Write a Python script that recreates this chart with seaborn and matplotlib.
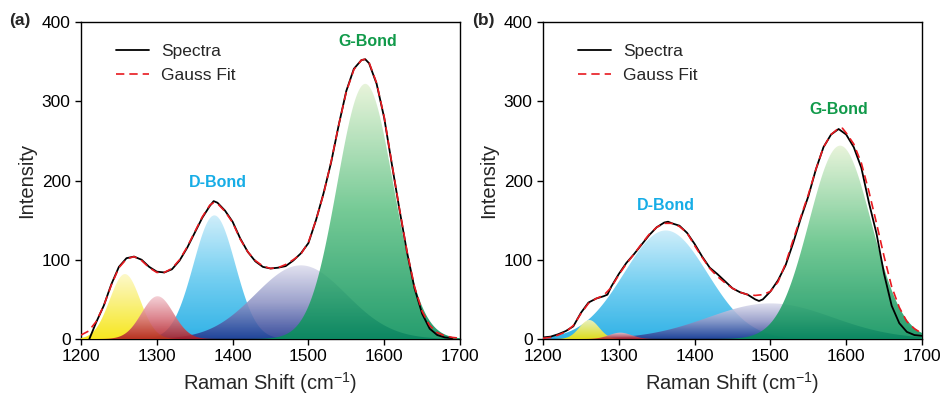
import numpy as np
import matplotlib
matplotlib.use("Agg")
import matplotlib.pyplot as plt
import seaborn as sns
from matplotlib.patches import PathPatch
from matplotlib.colors import to_rgb

# Spectrum and fit readings, panel (a)
fit_a_x = [1200, 1210, 1220, 1230, 1240, 1250, 1260, 1270, 1280, 1290, 1300, 1310, 1320, 1330,
           1340, 1350, 1360, 1370, 1375, 1380, 1390, 1400, 1410, 1420, 1430, 1440, 1450, 1460,
           1470, 1480, 1490, 1500, 1510, 1520, 1530, 1540, 1550, 1560, 1570, 1575, 1580, 1590,
           1600, 1610, 1620, 1630, 1640, 1650, 1660, 1670, 1680, 1690, 1700]
fit_a_y = [5, 10, 22, 42, 68, 90, 101, 104, 99, 90, 84, 84, 89, 100,
           116, 135, 154, 169, 172, 171, 161, 147, 126, 110, 99, 92, 89, 90,
           94, 100, 107, 122, 150, 183, 224, 270, 312, 340, 352, 353, 349, 323,
           280, 222, 165, 111, 66, 35, 17, 8, 4, 2, 1]
spec_a_x = [1211, 1220, 1230, 1240, 1250, 1260, 1270, 1280, 1290, 1300, 1310, 1320, 1330,
            1340, 1350, 1360, 1370, 1375, 1380, 1390, 1400, 1410, 1420, 1430, 1440, 1450, 1460,
            1470, 1480, 1490, 1500, 1510, 1520, 1530, 1540, 1550, 1560, 1570, 1575, 1580, 1590,
            1600, 1610, 1620, 1630, 1640, 1650, 1660, 1670, 1680, 1690]
spec_a_y = [0, 21, 42, 69, 91, 102, 104, 100, 91, 85, 84, 88, 99,
            115, 134, 153, 168, 174, 172, 162, 148, 127, 110, 98, 91, 89, 90,
            92, 99, 108, 121, 150, 184, 223, 270, 313, 341, 352, 353, 348, 322,
            279, 221, 164, 110, 64, 32, 13, 5, 2, 1]

# Spectrum and fit readings, panel (b)
fit_b_x = [1200, 1210, 1220, 1230, 1240, 1250, 1260, 1270, 1280, 1290, 1300, 1310, 1320, 1330,
           1340, 1350, 1360, 1370, 1380, 1390, 1400, 1410, 1420, 1430, 1440, 1450, 1460, 1470,
           1480, 1490, 1500, 1510, 1520, 1530, 1540, 1550, 1560, 1570, 1580, 1590, 1595, 1600,
           1610, 1620, 1630, 1640, 1650, 1660, 1670, 1680, 1690, 1700]
fit_b_y = [1, 2, 5, 9, 17, 32, 45, 51, 55, 65, 81, 95, 107, 120,
           132, 141, 146, 146, 142, 134, 118, 103, 89, 79, 71, 64, 59, 56,
           55, 56, 60, 72, 95, 125, 154, 182, 214, 242, 258, 266, 266, 260,
           246, 222, 186, 146, 104, 66, 40, 22, 13, 7]
spec_b_x = [1200, 1210, 1220, 1230, 1240, 1250, 1260, 1270, 1280, 1285, 1290, 1300, 1310, 1320,
            1330, 1340, 1350, 1360, 1365, 1370, 1380, 1390, 1400, 1410, 1420, 1430, 1440, 1450,
            1460, 1470, 1480, 1485, 1490, 1500, 1510, 1520, 1530, 1540, 1550, 1560, 1570, 1580,
            1590, 1600, 1610, 1620, 1630, 1640, 1650, 1660, 1670, 1680, 1690, 1700]
spec_b_y = [2, 3, 6, 10, 16, 33, 46, 51, 54, 56, 66, 82, 96, 107,
            119, 131, 141, 147, 148, 146, 143, 134, 120, 104, 90, 82, 73, 64,
            59, 56, 50, 48, 50, 60, 74, 93, 121, 152, 180, 214, 242, 258,
            265, 258, 242, 216, 172, 133, 82, 42, 20, 9, 5, 4]

# Gaussian components: yellow, red, blue (D), purple, green (G)
centers_a = [1258, 1301, 1376, 1490, 1575]
heights_a = [82, 54, 156, 93, 322]
sigmas_a = [20, 21, 27.5, 60, 37]
centers_b = [1261, 1302, 1362, 1500, 1592]
heights_b = [24, 8, 137, 45, 244]
sigmas_b = [13, 15, 55, 82, 41]

top_colors = ["#fdf8c4", "#f3cbd2", "#c9ecfa", "#dedeee", "#e6f3d6"]
mid_colors = ["#f9ee62", "#d97882", "#62c9f0", "#9096c6", "#62c387"]
bottom_colors = ["#f7e400", "#b01b22", "#15a8e3", "#1f3690", "#07905a"]
# drawing order: blue, purple, green underneath, yellow and red on top
layer_order = [4, 5, 1, 2, 3]

d_label_a = (1381, 198)
g_label_a = (1578, 376)
d_label_b = (1362, 168)
g_label_b = (1590, 290)

sns.set_theme(style="ticks")
plt.rcParams['font.family'] = ['Liberation Sans', 'DejaVu Sans']
plt.rcParams['mathtext.fontset'] = 'custom'
plt.rcParams['mathtext.rm'] = 'Liberation Sans'
plt.rcParams['mathtext.it'] = 'Liberation Sans:italic'


def grad_fill(ax, x, y, top, mid, bottom, z):
    poly = ax.fill_between(x, 0, y, color='none', lw=0)
    patch = PathPatch(poly.get_paths()[0], transform=ax.transData,
                      facecolor='none', edgecolor='none')
    ax.add_patch(patch)
    t = np.linspace(0, 1, 256)
    stops = np.array([to_rgb(top), to_rgb(mid), to_rgb(bottom)])
    img = np.stack([np.interp(t, [0, 0.5, 1], stops[:, k]) for k in range(3)], axis=-1)
    im = ax.imshow(img[:, None, :], extent=[x.min(), x.max(), 0, y.max()],
                   aspect='auto', origin='upper', alpha=0.88, zorder=z,
                   interpolation='bilinear')
    im.set_clip_path(patch)


def panel(ax, centers, heights, sigmas, fx, fy, sx, sy, dpos, gpos):
    xs = np.linspace(1200, 1700, 1001)
    for i, (c, h, s) in enumerate(zip(centers, heights, sigmas)):
        g = h * np.exp(-(xs - c) ** 2 / (2 * s ** 2))
        grad_fill(ax, xs, g, top_colors[i], mid_colors[i], bottom_colors[i], layer_order[i])
    sns.lineplot(x=sx, y=sy, ax=ax, color='black', lw=1.3, label='Spectra', zorder=8)
    sns.lineplot(x=fx, y=fy, ax=ax, color='#e8191f', lw=1.2, linestyle=(0, (5, 3)),
                 label='Gauss Fit', zorder=9)
    ax.text(dpos[0], dpos[1], 'D-Bond', color='#17ade6', fontsize=11.5,
            fontweight='bold', ha='center', va='center')
    ax.text(gpos[0], gpos[1], 'G-Bond', color='#119a4a', fontsize=11.5,
            fontweight='bold', ha='center', va='center')
    ax.set_xlim(1200, 1700)
    ax.set_ylim(0, 400)
    ax.set_xticks([1200, 1300, 1400, 1500, 1600, 1700])
    ax.set_yticks([0, 100, 200, 300, 400])
    ax.set_xlabel('Raman Shift (cm$^{-1}$)', fontsize=14.5, labelpad=4)
    ax.set_ylabel('Intensity', fontsize=14.5, labelpad=4)
    ax.tick_params(direction='out', length=4, width=1, labelsize=12.5, color='black',
                   labelcolor='black')
    for sp in ax.spines.values():
        sp.set_color('black')
        sp.set_linewidth(1)
    ax.legend(loc='upper left', bbox_to_anchor=(0.05, 0.98), frameon=False,
              fontsize=12.5, handlelength=1.9, handletextpad=0.7, labelspacing=0.5)


fig = plt.figure(figsize=(9.44, 3.96), dpi=100)
ax1 = fig.add_axes([0.0858, 0.1439, 0.4015, 0.8005])
ax2 = fig.add_axes([0.5752, 0.1439, 0.4015, 0.8005])

panel(ax1, centers_a, heights_a, sigmas_a, fit_a_x, fit_a_y, spec_a_x, spec_a_y,
      d_label_a, g_label_a)
panel(ax2, centers_b, heights_b, sigmas_b, fit_b_x, fit_b_y, spec_b_x, spec_b_y,
      d_label_b, g_label_b)

fig.text(0.010, 0.948, '(a)', fontsize=12.5, fontweight='bold', va='center')
fig.text(0.500, 0.948, '(b)', fontsize=12.5, fontweight='bold', va='center')

fig.savefig('out.png', dpi=100)
